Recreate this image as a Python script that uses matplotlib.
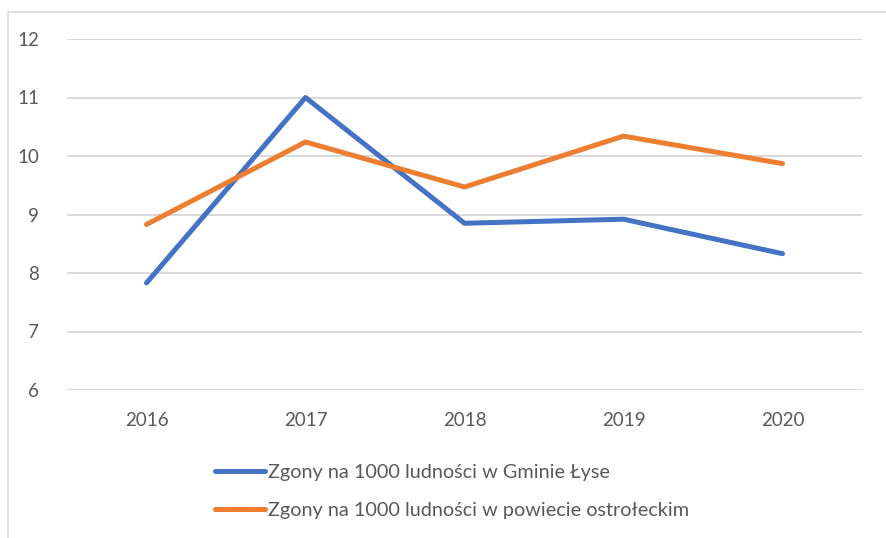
import matplotlib
matplotlib.use("Agg")
import matplotlib.pyplot as plt
from matplotlib.patches import Rectangle

plt.rcParams['font.family'] = ['Lato', 'DejaVu Sans']

years = ["2016", "2017", "2018", "2019", "2020"]
gmina = [7.83, 11.0, 8.85, 8.92, 8.33]
powiat = [8.83, 10.24, 9.47, 10.34, 9.87]
labels = ["Zgony na 1000 ludności w Gminie Łyse",
          "Zgony na 1000 ludności w powiecie ostrołeckim"]

fig = plt.figure(figsize=(8.86, 5.38), dpi=100)
ax = fig.add_axes([67 / 886, 1 - 390 / 538, 795 / 886, 351 / 538])

x = range(len(years))
ax.plot(x, gmina, color="#4472C4", lw=3.6, solid_capstyle="round", label=labels[0])
ax.plot(x, powiat, color="#ED7D31", lw=3.6, solid_capstyle="round", label=labels[1])

ax.set_xlim(-0.5, len(years) - 0.5)
ax.set_ylim(6, 12)
ax.set_yticks(range(6, 13))
ax.set_xticks(list(x))
ax.set_xticklabels(years)
ax.grid(axis="y", color="#d9d9d9", lw=1.4)
ax.set_axisbelow(True)
for s in ax.spines.values():
    s.set_visible(False)
ax.tick_params(length=0, labelsize=13.5, colors="#595959")
ax.tick_params(axis="y", pad=20)
ax.tick_params(axis="x", pad=16)

fig.legend(loc="upper left", bbox_to_anchor=(197 / 886, 1 - 446 / 538),
           frameon=False, fontsize=14.3, handlelength=2.5, handletextpad=0.2,
           labelspacing=1.05, labelcolor="#595959")

# outer chart border
fig.patches.append(Rectangle((8 / 886, -0.1), 1.0, 1 - 12 / 538 + 0.1,
                             transform=fig.transFigure, fill=False,
                             edgecolor="#d9d9d9", lw=1.2))

fig.savefig("out.png", dpi=100)
